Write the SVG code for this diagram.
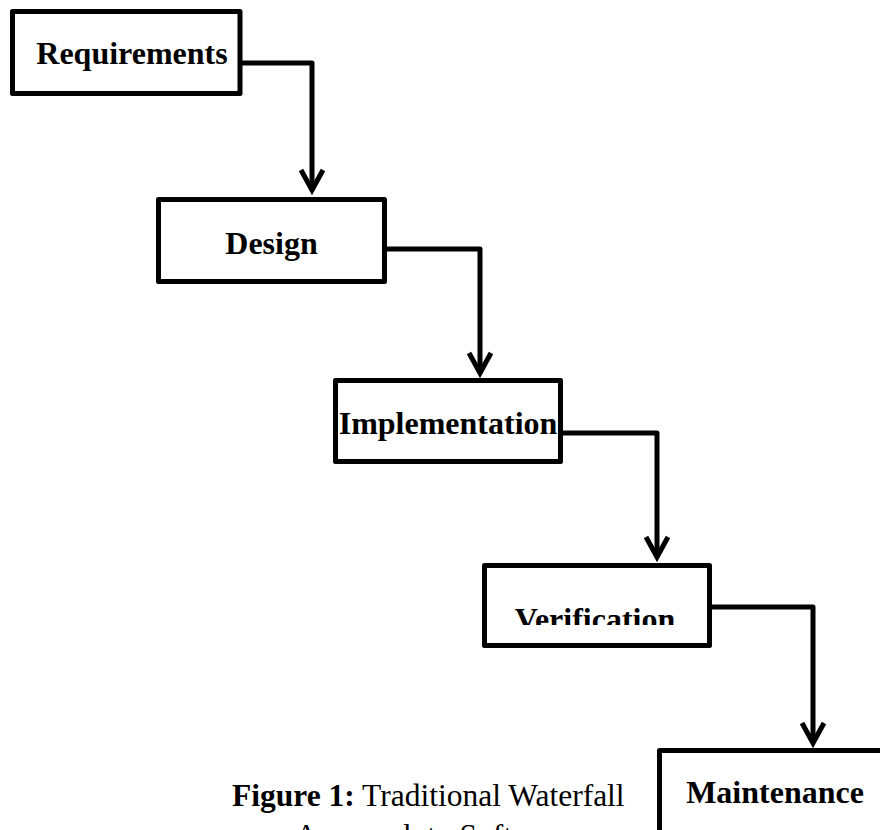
<svg xmlns="http://www.w3.org/2000/svg" width="880" height="830" viewBox="0 0 880 830">
  <style>
    .box { fill: #ffffff; stroke: #000000; stroke-width: 5; stroke-linejoin: round; }
    .label { font-family: "Liberation Serif", "Times New Roman", serif; font-size: 32px; font-weight: bold; fill: #000000; text-anchor: middle; }
    .caption { font-family: "Liberation Serif", "Times New Roman", serif; font-size: 31.5px; fill: #000000; }
    .link { fill: none; stroke: #000000; stroke-width: 5; stroke-linejoin: round; marker-end: url(#chevron); }
  </style>
  <defs>
    <marker id="chevron" markerUnits="userSpaceOnUse" markerWidth="40" markerHeight="40" refX="0" refY="0" orient="auto" viewBox="-30 -20 40 40" overflow="visible">
      <path d="M-20,-11 L0,0 L-20,11" fill="none" stroke="#000000" stroke-width="5" stroke-linejoin="miter" stroke-miterlimit="10"/>
    </marker>
    <!-- the Verification label is cut along its lower edge -->
    <clipPath id="clip-verification">
      <rect x="480" y="560" width="240" height="65"/>
    </clipPath>
  </defs>

  <rect width="880" height="830" fill="#ffffff"/>

  <!-- connectors -->
  <g id="connectors">
    <path class="link" d="M240,63 H312 V190"/>
    <path class="link" d="M385,249 H480 V373"/>
    <path class="link" d="M561,433 H657 V557"/>
    <path class="link" d="M710,607 H813 V743"/>
  </g>

  <!-- phases -->
  <g id="requirements">
    <rect class="box" x="12.5" y="11.5" width="227.5" height="82"/>
    <text class="label" x="132" y="64">Requirements</text>
  </g>
  <g id="design">
    <rect class="box" x="158.5" y="199.5" width="226" height="82"/>
    <text class="label" x="271.5" y="254">Design</text>
  </g>
  <g id="implementation">
    <rect class="box" x="335.5" y="380.5" width="225" height="81"/>
    <text class="label" x="448" y="434">Implementation</text>
  </g>
  <g id="verification">
    <rect class="box" x="484.5" y="565.5" width="225" height="80"/>
    <text class="label" x="595" y="630" clip-path="url(#clip-verification)">Verification</text>
  </g>
  <g id="maintenance">
    <rect class="box" x="659.5" y="750.5" width="240" height="100"/>
    <text class="label" x="775" y="803">Maintenance</text>
  </g>

  <!-- caption -->
  <g id="caption">
    <text class="caption" x="232" y="806"><tspan font-weight="bold">Figure 1:</tspan> Traditional Waterfall</text>
    <text class="caption" x="295" y="846">Approach to Software</text>
  </g>
</svg>
